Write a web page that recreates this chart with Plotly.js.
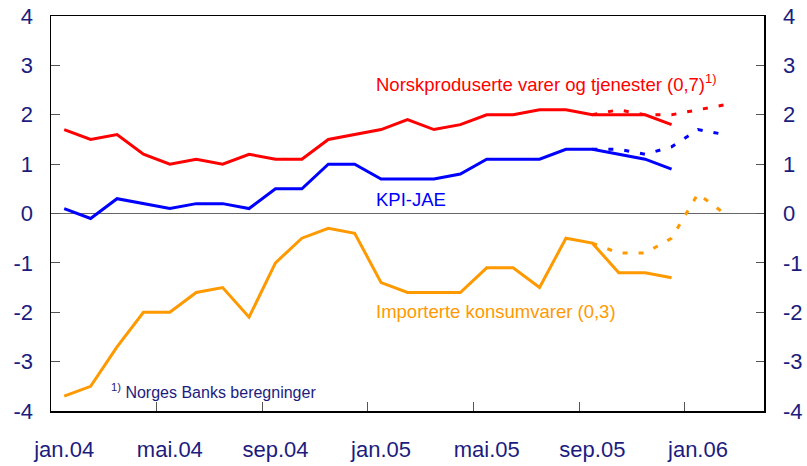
<!DOCTYPE html>
<html>
<head>
<meta charset="utf-8">
<script src="https://cdn.plot.ly/plotly-3.0.1.min.js"></script>
<style>html,body{margin:0;padding:0;background:#fff;}#chart{width:807px;height:466px;}</style>
</head>
<body>
<div id="chart"></div>
<script>
// Month index 0 = jan.04
const months = ["jan.04","feb.04","mar.04","apr.04","mai.04","jun.04","jul.04","aug.04","sep.04","okt.04","nov.04","des.04",
                "jan.05","feb.05","mar.05","apr.05","mai.05","jun.05","jul.05","aug.05","sep.05","okt.05","nov.05","des.05",
                "jan.06","feb.06"];
const tickIdx = [0,4,8,12,16,20,24];
const tickLabels = ["jan.04","mai.04","sep.04","jan.05","mai.05","sep.05","jan.06"];
const yTicks = [-4,-3,-2,-1,0,1,2,3,4];
const yTickLabels = ["-4","-3","-2","-1","0","1","2","3","4"];

// Actual (solid) series, jan.04 - des.05
const norskProd = [1.7,1.5,1.6,1.2,1.0,1.1,1.0,1.2,1.1,1.1,1.5,1.6,1.7,1.9,1.7,1.8,2.0,2.0,2.1,2.1,2.0,2.0,2.0,1.8];
const kpiJae    = [0.1,-0.1,0.3,0.2,0.1,0.2,0.2,0.1,0.5,0.5,1.0,1.0,0.7,0.7,0.7,0.8,1.1,1.1,1.1,1.3,1.3,1.2,1.1,0.9];
const importert = [-3.7,-3.5,-2.7,-2.0,-2.0,-1.6,-1.5,-2.1,-1.0,-0.5,-0.3,-0.4,-1.4,-1.6,-1.6,-1.6,-1.1,-1.1,-1.5,-0.5,-0.6,-1.2,-1.2,-1.3];

// Projection (dotted) series, sep.05 - feb.06
const projStart = 20;
const norskProdProj = [2.0,2.1,2.0,2.0,2.1,2.2];
const kpiJaeProj    = [1.3,1.3,1.2,1.35,1.7,1.6];
const importertProj = [-0.6,-0.8,-0.8,-0.5,0.4,0.0];

const RED = "#ff0000", BLUE = "#0000ff", ORANGE = "#ff9900", NAVY = "#1c1c7e";
const FONT = "Liberation Sans, Arial, sans-serif";

const idx = (arr, start) => arr.map((_, i) => start + i);
const dotted = {width: 3, dash: "5px,11px"};

const traces = [
  {x: idx(norskProdProj, projStart), y: norskProdProj, mode: "lines", line: Object.assign({color: RED}, dotted)},
  {x: idx(kpiJaeProj, projStart), y: kpiJaeProj, mode: "lines", line: Object.assign({color: BLUE}, dotted)},
  {x: idx(importertProj, projStart), y: importertProj, mode: "lines", line: Object.assign({color: ORANGE}, dotted)},
  {x: idx(norskProd, 0), y: norskProd, mode: "lines", line: {color: RED, width: 3}},
  {x: idx(kpiJae, 0), y: kpiJae, mode: "lines", line: {color: BLUE, width: 3}},
  {x: idx(importert, 0), y: importert, mode: "lines", line: {color: ORANGE, width: 3}},
  {x: [null], y: [null], yaxis: "y2", mode: "lines", hoverinfo: "skip"}
];
traces.forEach(t => { t.showlegend = false; t.hoverinfo = "skip"; });

const tickFont = {family: FONT, size: 22, color: NAVY};

const layout = {
  width: 807, height: 466,
  margin: {l: 51, r: 43, t: 16, b: 55},
  paper_bgcolor: "#fff", plot_bgcolor: "#fff",
  showlegend: false,
  font: {family: FONT},
  xaxis: {
    range: [-0.5, 26.5],
    tickmode: "array", tickvals: tickIdx, ticktext: tickLabels,
    ticks: "", showgrid: false, zeroline: false,
    showline: true, linecolor: "#000", linewidth: 1.5, mirror: true,
    tickfont: tickFont, ticklabelstandoff: 18,
    minor: {tickmode: "array", tickvals: tickIdx.slice(0, 6).map(v => v + 3.5), ticks: "inside", ticklen: 9, tickwidth: 1, tickcolor: "#555", showgrid: false}
  },
  yaxis: {
    range: [-4, 4], tickmode: "array", tickvals: yTicks, ticktext: yTickLabels,
    ticks: "inside", ticklen: 9, tickwidth: 1, tickcolor: "#555",
    showgrid: false, zeroline: true, zerolinecolor: "#666", zerolinewidth: 1.5,
    showline: true, linecolor: "#000", linewidth: 1.5,
    tickfont: tickFont, ticklabelstandoff: 12
  },
  yaxis2: {
    overlaying: "y", side: "right", matches: "y",
    range: [-4, 4], tickmode: "array", tickvals: yTicks, ticktext: yTickLabels,
    ticks: "inside", ticklen: 8, tickwidth: 1, tickcolor: "#555",
    showgrid: false, zeroline: false,
    showline: true, linecolor: "#000", linewidth: 1.5,
    tickfont: tickFont, ticklabelstandoff: 13
  },
  annotations: [
    {x: 11.75, y: 2.65, xref: "x", yref: "y", xanchor: "left", yanchor: "middle", showarrow: false,
     text: "Norskproduserte varer og tjenester (0,7)<sup>1)</sup>", font: {family: FONT, size: 18.5, color: RED}},
    {x: 11.75, y: 0.28, xref: "x", yref: "y", xanchor: "left", yanchor: "middle", showarrow: false,
     text: "KPI-JAE", font: {family: FONT, size: 18.5, color: BLUE}},
    {x: 11.75, y: -1.98, xref: "x", yref: "y", xanchor: "left", yanchor: "middle", showarrow: false,
     text: "Importerte konsumvarer (0,3)", font: {family: FONT, size: 18.5, color: ORANGE}},
    {x: 1.7, y: -3.6, xref: "x", yref: "y", xanchor: "left", yanchor: "middle", showarrow: false,
     text: "<sup>1)</sup> Norges Banks beregninger", font: {family: FONT, size: 16, color: NAVY}}
  ]
};

Plotly.newPlot("chart", traces, layout, {staticPlot: true, displayModeBar: false});
</script>
</body>
</html>
